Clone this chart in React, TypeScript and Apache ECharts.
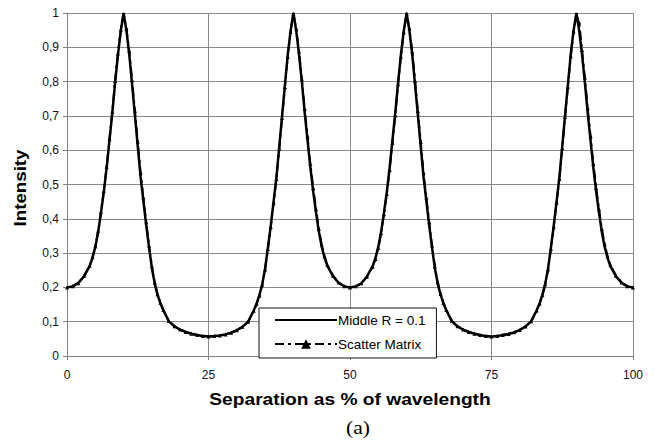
import React, { useEffect, useRef } from "react";
import * as echarts from "echarts";

// Separation (% of wavelength) at which intensity was sampled
const separation = [
  0, 1, 2, 3, 4, 4.5, 5, 5.5, 6, 6.5, 7, 7.5, 8, 8.5, 9, 9.5, 10,
  10.5, 11, 11.5, 12, 12.5, 13, 13.5, 14, 14.5, 15, 15.5, 16, 16.5, 17, 18, 19, 20, 21, 22, 23, 24, 25,
  26, 27, 28, 29, 30, 31, 32, 33, 33.5, 34, 34.5, 35, 35.5, 36, 36.5, 37, 37.5, 38, 38.5, 39, 39.5, 40,
  40.5, 41, 41.5, 42, 42.5, 43, 43.5, 44, 44.5, 45, 45.5, 46, 47, 48, 49, 50,
  51, 52, 53, 54, 54.5, 55, 55.5, 56, 56.5, 57, 57.5, 58, 58.5, 59, 59.5, 60,
  60.5, 61, 61.5, 62, 62.5, 63, 63.5, 64, 64.5, 65, 65.5, 66, 66.5, 67, 68, 69, 70, 71, 72, 73, 74, 75,
  76, 77, 78, 79, 80, 81, 82, 83, 83.5, 84, 84.5, 85, 85.5, 86, 86.5, 87, 87.5, 88, 88.5, 89, 89.5, 90,
  90.5, 91, 91.5, 92, 92.5, 93, 93.5, 94, 94.5, 95, 95.5, 96, 97, 98, 99, 100,
];

// Intensity, middle reflector R = 0.1
const middleR01 = [
  0.200, 0.203, 0.213, 0.232, 0.262, 0.286, 0.318, 0.361, 0.417, 0.478, 0.548, 0.628, 0.708, 0.797, 0.878, 0.947, 1.000,
  0.949, 0.879, 0.791, 0.702, 0.611, 0.522, 0.451, 0.381, 0.316, 0.256, 0.211, 0.178, 0.154, 0.134, 0.101, 0.086, 0.077, 0.070, 0.065, 0.061, 0.058, 0.057,
  0.058, 0.060, 0.063, 0.068, 0.075, 0.085, 0.100, 0.133, 0.153, 0.178, 0.210, 0.255, 0.316, 0.380, 0.450, 0.521, 0.610, 0.700, 0.790, 0.878, 0.948, 1.000,
  0.948, 0.878, 0.798, 0.709, 0.628, 0.549, 0.479, 0.418, 0.362, 0.319, 0.287, 0.263, 0.233, 0.213, 0.203, 0.200,
  0.203, 0.212, 0.232, 0.262, 0.286, 0.318, 0.362, 0.418, 0.478, 0.549, 0.629, 0.709, 0.798, 0.879, 0.948, 1.000,
  0.948, 0.878, 0.790, 0.701, 0.610, 0.521, 0.450, 0.380, 0.315, 0.255, 0.211, 0.179, 0.154, 0.134, 0.101, 0.086, 0.077, 0.070, 0.065, 0.061, 0.058, 0.057,
  0.058, 0.061, 0.064, 0.069, 0.076, 0.086, 0.101, 0.134, 0.154, 0.179, 0.211, 0.256, 0.316, 0.381, 0.451, 0.522, 0.611, 0.702, 0.791, 0.879, 0.949, 1.000,
  0.947, 0.878, 0.797, 0.708, 0.628, 0.548, 0.478, 0.417, 0.361, 0.318, 0.286, 0.262, 0.232, 0.213, 0.203, 0.200,
];

// Intensity from the scattering-matrix calculation
const scatterMatrix = [
  0.200, 0.203, 0.212, 0.233, 0.263, 0.288, 0.320, 0.365, 0.420, 0.482, 0.552, 0.632, 0.712, 0.802, 0.882, 0.952, 0.995,
  0.955, 0.890, 0.805, 0.715, 0.625, 0.535, 0.462, 0.390, 0.322, 0.262, 0.214, 0.180, 0.155, 0.135, 0.102, 0.087, 0.077, 0.070, 0.065, 0.061, 0.058, 0.057,
  0.058, 0.060, 0.063, 0.068, 0.075, 0.085, 0.100, 0.132, 0.152, 0.176, 0.208, 0.252, 0.312, 0.376, 0.446, 0.516, 0.604, 0.694, 0.784, 0.872, 0.945, 0.998,
  0.955, 0.888, 0.808, 0.720, 0.640, 0.560, 0.490, 0.428, 0.370, 0.325, 0.291, 0.266, 0.234, 0.214, 0.203, 0.200,
  0.203, 0.212, 0.231, 0.260, 0.283, 0.315, 0.358, 0.413, 0.472, 0.542, 0.622, 0.702, 0.792, 0.873, 0.944, 0.998,
  0.955, 0.888, 0.802, 0.714, 0.624, 0.534, 0.462, 0.390, 0.322, 0.261, 0.214, 0.181, 0.155, 0.135, 0.102, 0.087, 0.077, 0.070, 0.065, 0.061, 0.058, 0.057,
  0.058, 0.061, 0.064, 0.069, 0.076, 0.086, 0.101, 0.133, 0.153, 0.177, 0.209, 0.253, 0.313, 0.377, 0.447, 0.517, 0.606, 0.697, 0.786, 0.874, 0.946, 0.995,
  0.972, 0.892, 0.812, 0.722, 0.641, 0.560, 0.490, 0.428, 0.370, 0.326, 0.291, 0.266, 0.234, 0.214, 0.203, 0.200,
];

const seriesNames = ["Middle R = 0.1", "Scatter Matrix"];
const xTicks = [0, 25, 50, 75, 100];
const xTitle = "Separation as % of wavelength";
const yTitle = "Intensity";
const panelLabel = "(a)";

const SANS = "'Liberation Sans', Arial, Helvetica, sans-serif";
const SERIF = "'Liberation Serif', 'Times New Roman', serif";

export default function App() {
  const ref = useRef<HTMLDivElement>(null);

  useEffect(() => {
    if (!ref.current) return;
    const chart = echarts.init(ref.current, undefined, { renderer: "svg" });
    const pairs = (ys: number[]) => separation.map((x, i) => [x, ys[i]]);

    chart.setOption({
      animation: false,
      backgroundColor: "#ffffff",
      grid: { left: 67, right: 22, top: 13, bottom: 92, containLabel: false },
      legend: {
        orient: "vertical",
        left: 259,
        top: 308,
        data: [
          { name: seriesNames[0], itemStyle: { opacity: 0 } },
          { name: seriesNames[1] },
        ],
        itemWidth: 62,
        itemHeight: 12,
        itemGap: 10,
        padding: [5, 11, 7, 15],
        backgroundColor: "#ffffff",
        borderColor: "#111111",
        borderWidth: 1,
        borderRadius: 0,
        textStyle: { fontFamily: SANS, fontSize: 13.5, color: "#000", padding: [0, 0, 0, -4] },
      },
      xAxis: {
        type: "value",
        min: 0,
        max: 100,
        interval: 25,
        axisLine: { show: true, lineStyle: { color: "#808080", width: 1 } },
        axisTick: { show: true, length: 4, inside: false, lineStyle: { color: "#808080" } },
        axisLabel: {
          margin: 13,
          fontFamily: SANS,
          fontSize: 12,
          color: "#111",
          formatter: (v: number) => (xTicks.includes(v) ? String(v) : ""),
        },
        splitLine: { show: true, lineStyle: { color: "#8a8a8a", width: 1 } },
      },
      yAxis: {
        type: "value",
        min: 0,
        max: 1,
        interval: 0.1,
        axisLine: { show: true, lineStyle: { color: "#808080", width: 1 } },
        axisTick: { show: true, length: 4, inside: false, lineStyle: { color: "#808080" } },
        axisLabel: {
          margin: 8,
          fontFamily: SANS,
          fontSize: 12,
          color: "#111",
          formatter: (v: number) => {
            const r = Math.round(v * 10) / 10;
            return r === 0 || r === 1 ? String(r) : r.toFixed(1).replace(".", ",");
          },
        },
        splitLine: { show: true, lineStyle: { color: "#8a8a8a", width: 1 } },
      },
      series: [
        {
          name: seriesNames[0],
          type: "line",
          data: pairs(middleR01),
          showSymbol: false,
          symbol: "circle",
          lineStyle: { color: "#000", width: 2.5 },
          itemStyle: { color: "#000" },
          z: 2,
        },
        {
          name: seriesNames[1],
          type: "line",
          data: pairs(scatterMatrix),
          symbol: "triangle",
          symbolSize: 4,
          showSymbol: true,
          lineStyle: { color: "#000", width: 2, type: [9, 4, 3, 4] },
          itemStyle: { color: "#000" },
          z: 3,
        },
      ],
      graphic: [
        {
          type: "text",
          x: 350,
          y: 400,
          scaleX: 1.2,
          style: {
            text: xTitle,
            font: `bold 16px ${SANS}`,
            fill: "#000",
            align: "center",
            verticalAlign: "middle",
          },
        },
        {
          type: "text",
          x: 20,
          y: 188,
          rotation: Math.PI / 2,
          scaleX: 1.17,
          style: {
            text: yTitle,
            font: `bold 16px ${SANS}`,
            fill: "#000",
            align: "center",
            verticalAlign: "middle",
          },
        },
        {
          type: "text",
          x: 358,
          y: 428,
          scaleX: 1.2,
          style: {
            text: panelLabel,
            font: `18px ${SERIF}`,
            fill: "#000",
            align: "center",
            verticalAlign: "middle",
          },
        },
      ],
    });

    return () => chart.dispose();
  }, []);

  return (
    <div
      ref={ref}
      style={{ position: "fixed", left: 0, top: 0, width: 655, height: 448, background: "#fff" }}
    />
  );
}
